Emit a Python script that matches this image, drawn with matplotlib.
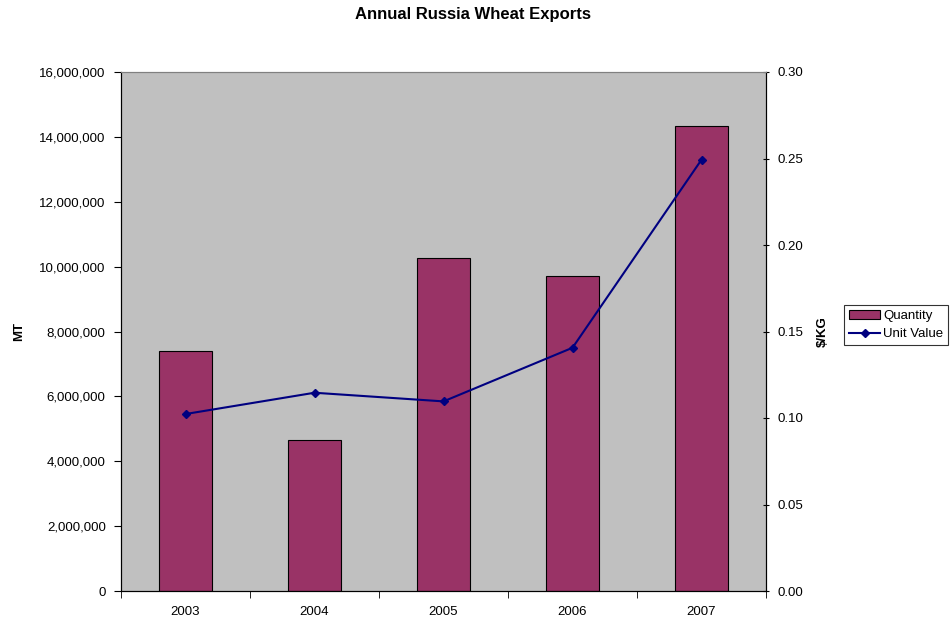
import matplotlib
matplotlib.use("Agg")
import matplotlib.pyplot as plt
from matplotlib.ticker import FuncFormatter, FixedLocator
from matplotlib.lines import Line2D
from matplotlib.patches import Patch

plt.rcParams['font.family'] = ['Liberation Sans', 'DejaVu Sans']

years = ['2003', '2004', '2005', '2006', '2007']
quantity = [7410000, 4650000, 10270000, 9710000, 14330000]
unit_value = [0.1023, 0.1146, 0.1096, 0.1406, 0.2493]

fs = 9.5

fig = plt.figure(figsize=(9.53, 6.17), dpi=100)
ax = fig.add_axes([121/953, 26/617, 645/953, 519/617])
ax.set_facecolor('#C0C0C0')

x = list(range(len(years)))
ax.bar(x, quantity, width=0.41, color='#993366', edgecolor='black', linewidth=0.8, zorder=2)
ax.set_xlim(-0.5, len(years) - 0.5)
ax.set_ylim(0, 16000000)
ax.set_yticks(range(0, 16000001, 2000000))
ax.yaxis.set_major_formatter(FuncFormatter(lambda v, p: f'{int(v):,}'))
ax.set_xticks(x)
ax.set_xticklabels(years)
ax.tick_params(axis='x', which='major', length=0, labelsize=fs, pad=11)
ax.xaxis.set_minor_locator(FixedLocator([i - 0.5 for i in range(len(years) + 1)]))
ax.tick_params(axis='x', which='minor', length=5, direction='out', color='black')
ax.tick_params(axis='y', length=5, direction='out', labelsize=fs, color='black', pad=6)
ax.set_ylabel('MT', fontsize=fs, fontweight='bold')
ax.yaxis.set_label_coords(-0.148, 0.5)

ax.spines['top'].set_color('#808080')
ax.spines['left'].set_color('black')
ax.spines['bottom'].set_color('black')
ax.spines['right'].set_color('black')

ax2 = ax.twinx()
ax2.plot(x, unit_value, color='#000080', linewidth=1.5, marker='D', markersize=4, zorder=3)
ax2.set_ylim(0, 0.30)
ax2.set_yticks([0, 0.05, 0.10, 0.15, 0.20, 0.25, 0.30])
ax2.yaxis.set_major_formatter(FuncFormatter(lambda v, p: f'{v:.2f}'))
ax2.tick_params(axis='y', length=5, direction='inout', labelsize=fs, color='black', pad=6)
ax2.set_ylabel('$/KG', fontsize=fs, fontweight='bold')
ax2.yaxis.set_label_coords(1.078, 0.5)
ax2.spines['top'].set_color('#808080')
ax2.spines['right'].set_color('black')

fig.text(473/953, 1 - 15/617, 'Annual Russia Wheat Exports', ha='center', va='center',
         fontsize=12, fontweight='bold')

handles = [Patch(facecolor='#993366', edgecolor='black', linewidth=0.8),
           Line2D([0], [0], color='#000080', linewidth=1.5, marker='D', markersize=4)]
leg = fig.legend(handles, ['Quantity', 'Unit Value'], loc='center',
                 bbox_to_anchor=(896/953, 1 - 325/617), fontsize=fs,
                 frameon=True, fancybox=False, edgecolor='black',
                 handlelength=2.4, handletextpad=0.2, borderpad=0.35, labelspacing=0.45,
                 borderaxespad=0)
leg.get_frame().set_linewidth(0.8)

fig.savefig('out.png', dpi=100)
